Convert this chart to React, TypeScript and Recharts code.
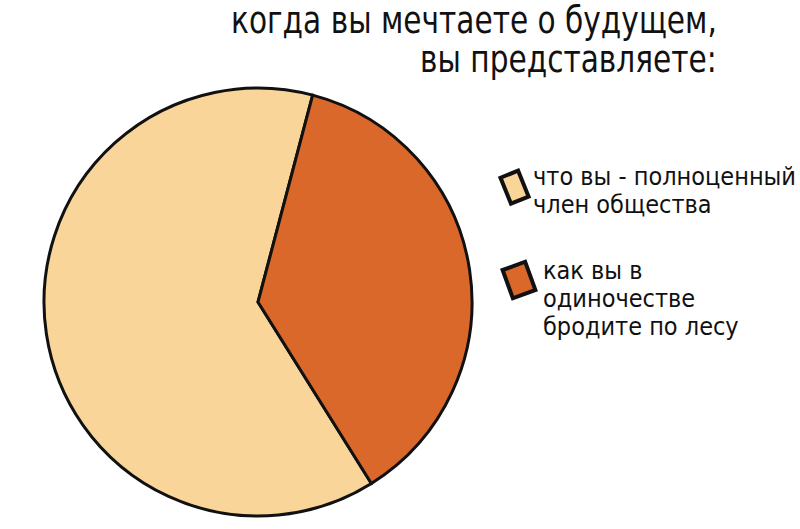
import React from "react";
import { PieChart, Pie, Cell, Legend } from "recharts";

const labels = ["что вы - полноценный член общества", "как вы в одиночестве бродите по лесу"];
const legendLines = [
  ["что вы - полноценный", "член общества"],
  ["как вы в", "одиночестве", "бродите по лесу"],
];
const values = [63, 37];
const colors = ["#F9D59A", "#D9682A"];
const titleLines = ["когда вы мечтаете о будущем,", "вы представляете:"];

const data = labels.map((name, i) => ({ name, value: values[i] }));

const font = "'Liberation Sans Narrow', 'DejaVu Sans Condensed', sans-serif";

const renderLegend = () => (
  <div style={{ fontFamily: font, color: "#111" }}>
    {legendLines.map((lines, i) => (
      <div
        key={i}
        style={{ display: "flex", alignItems: "flex-start", marginBottom: i === 0 ? 38 : 0 }}
      >
        <svg width={i === 0 ? 36 : 46} height={46} style={{ flexShrink: 0, marginTop: i === 0 ? 2 : 0 }}>
          <rect
            x={i === 0 ? 8 : 10}
            y={8}
            width={i === 0 ? 19 : 24}
            height={i === 0 ? 28 : 30}
            fill={colors[i]}
            stroke="#111"
            strokeWidth={4}
            transform={i === 0 ? "rotate(-22 18 22)" : "rotate(-20 22 23)"}
          />
        </svg>
        <div
          style={{
            fontSize: 25,
            lineHeight: "28px",
            whiteSpace: "nowrap",
          }}
        >
          {lines.map((l) => (
            <div key={l}>{l}</div>
          ))}
        </div>
      </div>
    ))}
  </div>
);

export default function App() {
  return (
    <div
      style={{
        position: "absolute",
        left: 0,
        top: 0,
        width: 800,
        height: 529,
        background: "#fff",
      }}
    >
      <div
        style={{
          position: "absolute",
          right: 83,
          top: 1,
          textAlign: "right",
          fontFamily: font,
          fontSize: 37,
          lineHeight: "39px",
          color: "#111",
          whiteSpace: "nowrap",
          transform: "scaleX(0.89)",
          transformOrigin: "right top",
        }}
      >
        {titleLines.map((t) => (
          <div key={t}>{t}</div>
        ))}
      </div>
      <PieChart width={800} height={529} margin={{ top: 0, right: 0, bottom: 0, left: 0 }}>
        <Pie
          data={data}
          dataKey="value"
          nameKey="name"
          cx={258}
          cy={302}
          outerRadius={214}
          startAngle={-58}
          endAngle={-418}
          stroke="#111"
          strokeWidth={3}
          isAnimationActive={false}
        >
          {data.map((d, i) => (
            <Cell key={d.name} fill={colors[i]} />
          ))}
        </Pie>
        <Legend
          layout="vertical"
          align="right"
          verticalAlign="top"
          content={renderLegend}
          wrapperStyle={{ left: 497, top: 163, width: 303 }}
        />
      </PieChart>
    </div>
  );
}
